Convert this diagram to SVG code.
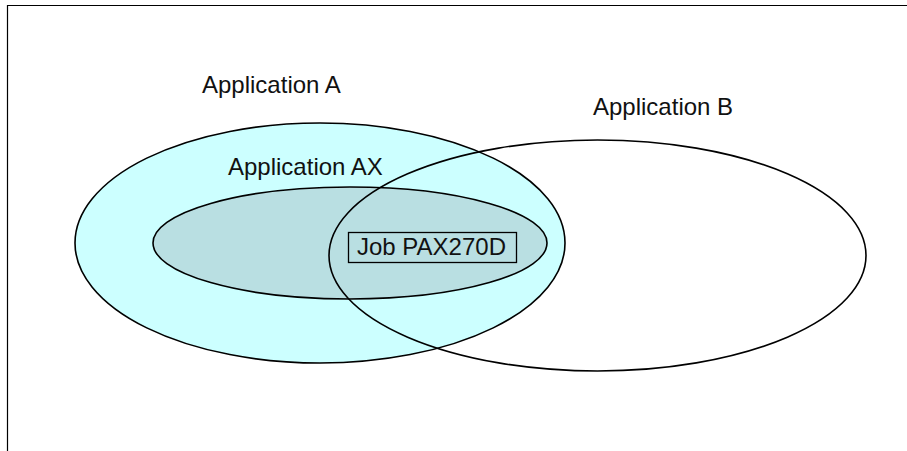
<svg xmlns="http://www.w3.org/2000/svg" width="907" height="451" viewBox="0 0 907 451">
  <style>
    .frame { fill: none; stroke: #000; stroke-width: 1.2; }
    .set { stroke: #000; stroke-width: 1.6; }
    .label { font-family: "Liberation Sans", Arial, sans-serif; font-size: 24px; fill: #111; }
  </style>
  <rect width="907" height="451" fill="#fff"/>
  <!-- page frame: top and left edges only -->
  <path class="frame" d="M7.5,451 V5.5 H907"/>

  <g id="application-a">
    <ellipse class="set" cx="320" cy="243" rx="245" ry="120" fill="#ccffff"/>
    <text class="label" x="202" y="93">Application A</text>
  </g>

  <g id="application-ax">
    <ellipse class="set" cx="350" cy="243" rx="197" ry="56" fill="#b9dfe2"/>
    <text class="label" x="228" y="175">Application AX</text>
  </g>

  <g id="application-b">
    <ellipse class="set" cx="597.5" cy="255.5" rx="268.5" ry="115.5" fill="none"/>
    <text class="label" x="593" y="115">Application B</text>
  </g>

  <g id="job-pax270d">
    <rect x="348.5" y="232.5" width="168" height="30" fill="none" stroke="#000" stroke-width="1.3"/>
    <text class="label" x="357" y="255">Job PAX270D</text>
  </g>

  <g id="connectors"/>
</svg>
